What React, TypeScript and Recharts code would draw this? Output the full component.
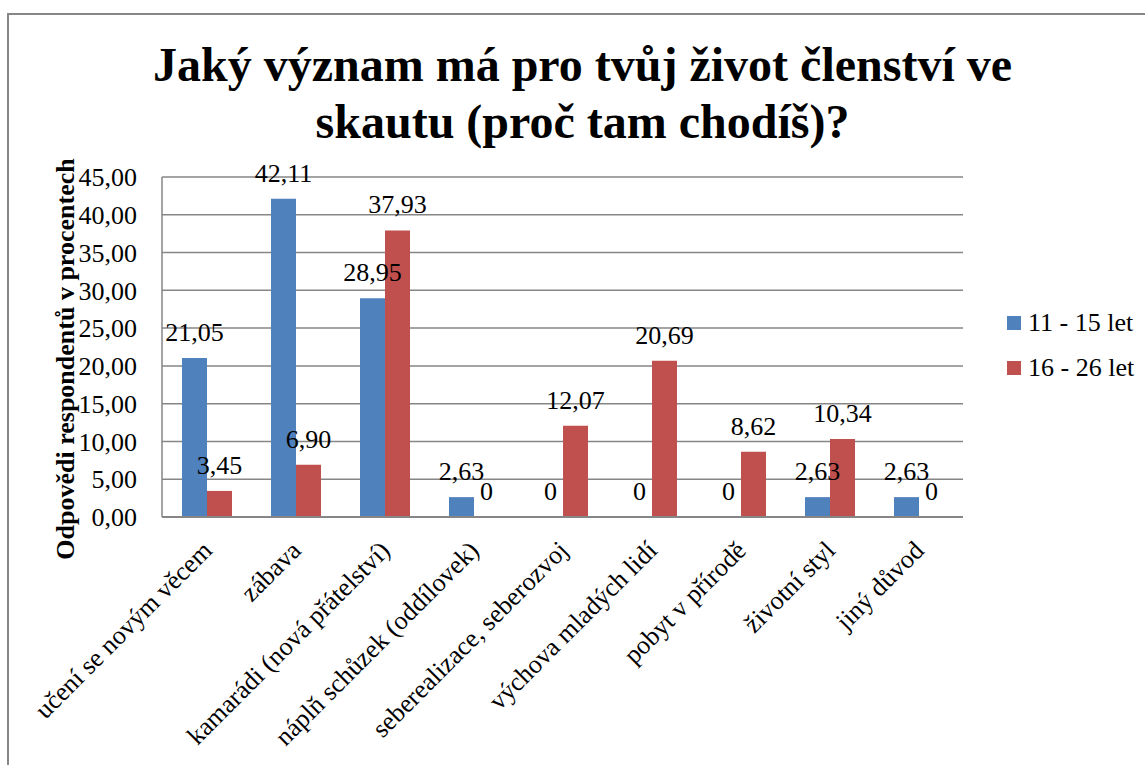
import React from 'react';
import { BarChart, Bar, XAxis, YAxis, CartesianGrid, LabelList } from 'recharts';

const categories = [
  'učení se novým věcem',
  'zábava',
  'kamarádi (nová přátelství)',
  'náplň schůzek (oddílovek)',
  'seberealizace, seberozvoj',
  'výchova mladých lidí',
  'pobyt v přírodě',
  'životní styl',
  'jiný důvod',
];

const younger = [21.05, 42.11, 28.95, 2.63, 0, 0, 0, 2.63, 2.63];
const older = [3.45, 6.9, 37.93, 0, 12.07, 20.69, 8.62, 10.34, 0];

const seriesNames = ['11 - 15 let', '16 - 26 let'];
const yTicks = [0, 5, 10, 15, 20, 25, 30, 35, 40, 45];

const COLORS = ['#4F81BD', '#C0504D'];
const FONT = '"Liberation Serif", "Times New Roman", serif';

const data = categories.map((name, i) => ({
  name,
  a: younger[i],
  b: older[i],
}));

const fmtTick = (v: number) => v.toFixed(2).replace('.', ',');
const fmtLabel = (v: any) => (Number(v) === 0 ? '0' : Number(v).toFixed(2).replace('.', ','));

const textStyle = { fontFamily: FONT, fontSize: 26, fill: '#000' };

// zero bars get a hair of height so Recharts keeps their "0" label
const keepZero = (v: any) => (Number(v) === 0 ? 0.01 : 0);

const CategoryTick = (props: any) => {
  const { x, y, payload } = props;
  const ax = x + 7;
  const ay = y + 27;
  return (
    <text x={ax} y={ay} textAnchor="end" transform={`rotate(-45, ${ax}, ${ay})`} style={textStyle}>
      {payload.value}
    </text>
  );
};

const ValueLabel = (props: any) => {
  const { x, y, width, height, value } = props;
  const top = Math.min(y, y + height);
  return (
    <text x={x + width / 2} y={top - 17} textAnchor="middle" style={textStyle}>
      {fmtLabel(value)}
    </text>
  );
};

export default function App() {
  return (
    <div style={{ position: 'absolute', left: 0, top: 0, width: 1145, height: 765, background: '#fff', overflow: 'hidden', fontFamily: FONT }}>
      <div
        style={{
          position: 'absolute',
          left: 7,
          top: 13,
          width: 1160,
          height: 800,
          border: '2px solid #868686',
          boxSizing: 'border-box',
        }}
      />
      <div
        style={{
          position: 'absolute',
          left: 0,
          top: 36,
          width: 1165,
          textAlign: 'center',
          fontFamily: FONT,
          fontWeight: 'bold',
          fontSize: 48,
          lineHeight: '57px',
          color: '#000',
        }}
      >
        Jaký význam má pro tvůj život členství ve
        <br />
        skautu (proč tam chodíš)?
      </div>
      <div style={{ position: 'absolute', left: 1007, top: 300, fontFamily: FONT, fontSize: 26, color: '#000' }}>
        {seriesNames.map((n, i) => (
          <div key={n} style={{ display: 'flex', alignItems: 'center', height: 45 }}>
            <span style={{ width: 14, height: 14, background: COLORS[i], marginRight: 7, display: 'inline-block' }} />
            <span>{n}</span>
          </div>
        ))}
      </div>
      <div style={{ position: 'absolute', left: 0, top: 0 }}>
        <BarChart
          width={1145}
          height={765}
          data={data}
          margin={{ top: 177, right: 182, bottom: 238, left: 72 }}
          barGap={0}
        >
          <CartesianGrid vertical={false} stroke="#868686" strokeWidth={1.5} />
          <XAxis
            dataKey="name"
            interval={0}
            tickLine={false}
            axisLine={{ stroke: '#868686', strokeWidth: 2 }}
            tick={<CategoryTick />}
            height={10}
          />
          <YAxis
            width={90}
            domain={[0, 45]}
            ticks={yTicks}
            interval={0}
            tickFormatter={fmtTick}
            tickLine={false}
            tickSize={0}
            tickMargin={25}
            axisLine={{ stroke: '#868686', strokeWidth: 1.5 }}
            tick={textStyle}
            label={{
              value: 'Odpovědi respondentů v procentech',
              angle: -90,
              position: 'insideLeft',
              dx: -12,
              dy: 12,
              style: { fontFamily: FONT, fontSize: 26, fontWeight: 'bold', fill: '#000', textAnchor: 'middle' },
            }}
          />
          <Bar dataKey="a" name={seriesNames[0]} fill={COLORS[0]} barSize={25} minPointSize={keepZero} isAnimationActive={false}>
            <LabelList dataKey="a" content={<ValueLabel />} />
          </Bar>
          <Bar dataKey="b" name={seriesNames[1]} fill={COLORS[1]} barSize={25} minPointSize={keepZero} isAnimationActive={false}>
            <LabelList dataKey="b" content={<ValueLabel />} />
          </Bar>
        </BarChart>
      </div>
    </div>
  );
}
